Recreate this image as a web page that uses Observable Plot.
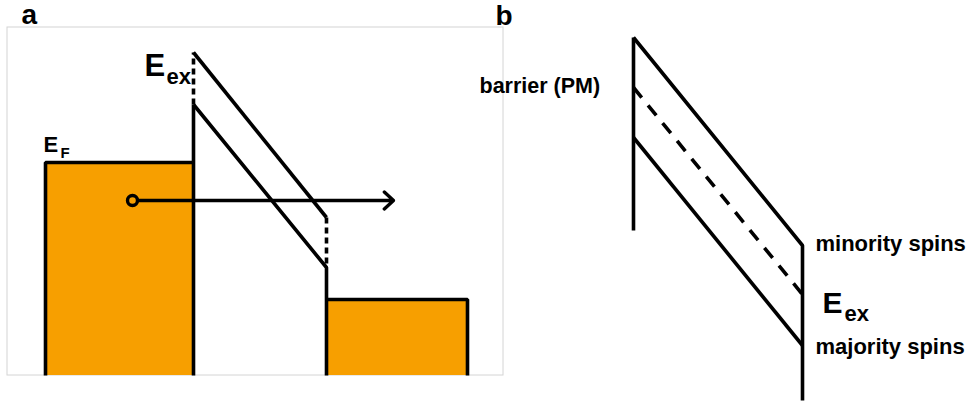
<!DOCTYPE html>
<html><head><meta charset="utf-8">
<script src="https://cdn.jsdelivr.net/npm/d3@7"></script>
<script src="https://cdn.jsdelivr.net/npm/@observablehq/plot@0.6"></script>
<style>body{margin:0;background:#fff;} #chart svg{display:block;}</style>
</head><body><div id="chart"></div>
<script>
// ---- Schematic values (diagram units: x = position, y = energy, drawn downward) ----
// Panel a: tunnel junction
const panelA_x = [45, 193, 326, 467];      // left electrode start, barrier start, barrier end, right electrode end
const panelA_fermi = [162, 299];           // Fermi level left / right electrode
const panelA_minority = [52, 217];         // minority-spin barrier top (start, end)
const panelA_majority = [104, 267];        // majority-spin barrier top (start, end)
const panelA_floor = 375;                  // band bottom
const panelA_frame = [7, 503, 27, 375];    // x1, x2, y1, y2
const electronPos = [132, 200];            // tunnelling electron
const electronEndX = 393;                  // arrow tip

// Panel b: spin-split barrier (paramagnet)
const panelB_x = [633, 802];
const panelB_minority = [37, 245];
const panelB_midgap = [87, 294];
const panelB_majority = [137, 345];
const panelB_wallEnds = [230, 400];

// Labels
const labelTexts = ["a", "b", "E", "F", "E", "ex", "barrier (PM)", "minority spins", "E", "ex", "majority spins"];
const labelX =     [21, 495, 43, 60, 144, 166, 479, 815, 822, 844, 815];
const labelY =     [23, 24, 151, 157, 75, 83, 92, 250, 312, 320, 353];
const labelSize =  [28, 28, 22, 15, 31, 22, 21.5, 22, 30, 22, 22];

const ORANGE = "#F79F00";

// ---- Build tables ----
const [a0, a1, a2, a3] = panelA_x;
const floor = panelA_floor;
const [b0, b1] = panelB_x;

const solidPaths = {
  leftMetal: [[a0, floor], [a0, panelA_fermi[0]], [a1, panelA_fermi[0]]],
  barrierWall: [[a1, floor], [a1, panelA_majority[0]]],
  majorityA: [[a1, panelA_majority[0]], [a2, panelA_majority[1]], [a2, floor]],
  minorityA: [[a1, panelA_minority[0]], [a2, panelA_minority[1]]],
  rightMetal: [[a2, panelA_fermi[1]], [a3, panelA_fermi[1]], [a3, floor]],
  wallB: [[b0, panelB_wallEnds[0]], [b0, panelB_minority[0]]],
  minorityB: [[b0, panelB_minority[0]], [b1, panelB_minority[1]], [b1, panelB_wallEnds[1]]],
  majorityB: [[b0, panelB_majority[0]], [b1, panelB_majority[1]]]
};
const dashedShortPaths = {
  exA0: [[a1, panelA_majority[0]], [a1, panelA_minority[0]]],
  exA1: [[a2, panelA_minority[1]], [a2, panelA_majority[1]]]
};
const dashedLongPaths = {
  midB: [[b0, panelB_midgap[0]], [b1, panelB_midgap[1]]]
};
const toRows = (obj) => Object.entries(obj).flatMap(([id, pts]) => pts.map(([x, y]) => ({id, x, y})));

const metals = [
  {x1: a0, x2: a1, y1: panelA_fermi[0], y2: floor},
  {x1: a2, x2: a3, y1: panelA_fermi[1], y2: floor}
];
const frame = [{x1: panelA_frame[0], x2: panelA_frame[1], y1: panelA_frame[2], y2: panelA_frame[3]}];
const electron = [{x: electronPos[0], y: electronPos[1], xEnd: electronEndX}];
const labels = labelTexts.map((t, i) => ({text: t, x: labelX[i], y: labelY[i], size: labelSize[i]}));

const chart = Plot.plot({
  width: 969,
  height: 402,
  margin: 0,
  x: {domain: [0, 969], axis: null},
  y: {domain: [0, 402], reverse: true, axis: null},
  style: {fontFamily: "'Liberation Sans', Arial, sans-serif", background: "#fff"},
  marks: [
    Plot.rect(frame, {x1: "x1", x2: "x2", y1: "y1", y2: "y2", fill: "none", stroke: "#d4d4d4", strokeWidth: 1}),
    Plot.rect(metals, {x1: "x1", x2: "x2", y1: "y1", y2: "y2", fill: ORANGE}),
    Plot.line(toRows(solidPaths), {x: "x", y: "y", z: "id", stroke: "black", strokeWidth: 3.6, strokeLinejoin: "miter", strokeLinecap: "butt"}),
    Plot.line(toRows(dashedShortPaths), {x: "x", y: "y", z: "id", stroke: "black", strokeWidth: 3.6, strokeDasharray: "6,4", strokeLinecap: "butt"}),
    Plot.line(toRows(dashedLongPaths), {x: "x", y: "y", z: "id", stroke: "black", strokeWidth: 3.6, strokeDasharray: "13,10", strokeLinecap: "butt"}),
    Plot.arrow(electron, {x1: d => d.x + 5, y1: "y", x2: "xEnd", y2: "y", stroke: "black", strokeWidth: 3.4, headLength: 5.5, headAngle: 85}),
    Plot.dot(electron, {x: "x", y: "y", r: 5, stroke: "black", strokeWidth: 3.4, fill: ORANGE}),
    Plot.text(labels, {x: "x", y: "y", text: "text", fontSize: "size", fontWeight: "bold", textAnchor: "start", lineAnchor: "bottom", fill: "black"})
  ]
});
document.getElementById("chart").append(chart);
</script>
</body></html>
